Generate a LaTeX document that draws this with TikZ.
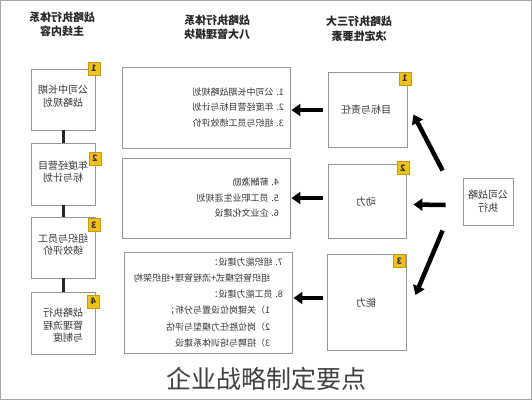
\documentclass[tikz,border=0pt]{standalone}
\usepackage{fontspec}
\usepackage{graphicx}
\usetikzlibrary{arrows.meta,calc}
\setmainfont{Noto Sans CJK SC}
\newcommand\mir[1]{\reflectbox{#1}}
\definecolor{badgey}{RGB}{240,192,30}
\definecolor{boxgray}{RGB}{150,150,150}
\begin{document}
\begin{tikzpicture}[x=1pt,y=-1pt,
 box/.style={draw=boxgray, line width=0.8pt, inner sep=0pt, fill=white},
 badge/.style={fill=badgey, draw=badgey!80!black, line width=0.3pt, minimum width=12pt, minimum height=13pt, inner sep=0pt, font=\fontsize{9}{9}\selectfont\bfseries, text=black!80},
 hdr/.style={font=\fontsize{11}{14.5}\selectfont\bfseries, text=black!85, inner sep=0pt},
 ltxt/.style={font=\fontsize{10}{12.5}\selectfont, text=black!80, inner sep=0pt},
 mtxt/.style={font=\fontsize{9}{15.5}\selectfont, text=black!80, inner sep=0pt},
 link/.style={line width=3pt, draw=black!85},
 bigarrow/.style={line width=4.5pt, draw=black, -{Triangle[length=9pt,width=12pt]}},
]
\useasboundingbox (0,0) rectangle (532,400);
\draw[gray!70, line width=1pt] (0.5,0.5) rectangle (531.5,399.5);

% headers
\node[hdr] (h1) at (62,25.5) {\mir{\begin{tabular}{@{}c@{}}战略执行体系\\主线内容\end{tabular}}};
\node[hdr] (h2) at (217,28.5) {\mir{\begin{tabular}{@{}c@{}}战略执行体系\\八大管理模块\end{tabular}}};
\node[hdr] (h3) at (359,30) {\mir{\begin{tabular}{@{}c@{}}战略执行三大\\决定性要素\end{tabular}}};

% left column
\node[box, minimum width=64pt, minimum height=61pt] (L1) at (63,99.5) {};
\node[box, minimum width=64pt, minimum height=62pt] (L2) at (63,174) {};
\node[box, minimum width=64pt, minimum height=61pt] (L3) at (63,247.5) {};
\node[box, minimum width=64pt, minimum height=62pt] (L4) at (63,323) {};
\draw[link] (L1.south) -- (L2.north);
\draw[link] (L2.south) -- (L3.north);
\draw[link] (L3.south) -- (L4.north);
\node[ltxt] (t1) at (63,97.5) {\mir{\begin{tabular}{@{}c@{}}公司中长期\\战略规划\end{tabular}}};
\node[ltxt] (t2) at (63,173) {\mir{\begin{tabular}{@{}c@{}}年度经营目\\标与计划\end{tabular}}};
\node[ltxt] (t3) at (63,246) {\mir{\begin{tabular}{@{}c@{}}组织与员工\\绩效评价\end{tabular}}};
\node[ltxt] (t4) at (63,326.5) {\mir{\begin{tabular}{@{}l@{}}战略执行\\管理流程\\与制度\end{tabular}}};
\node[badge] (b1) at (94,68.5) {\mir{1}};
\node[badge] (b2) at (95,158.5) {\mir{2}};
\node[badge] (b3) at (94,225) {\mir{3}};
\node[badge] (b4) at (93.5,301.5) {\mir{4}};

% middle column
\node[box, minimum width=168pt, minimum height=81pt] (M1) at (206,107.5) {};
\node[box, minimum width=168pt, minimum height=80pt] (M2) at (206,198) {};
\node[box, minimum width=168pt, minimum height=101pt] (M3) at (208,302.5) {};
\node[mtxt, anchor=east] (m1) at (284,107.5) {\mir{\begin{tabular}{@{}l@{}}1. 公司中长期战略规划\\2. 年度经营目标与计划\\3. 组织与员工绩效评价\end{tabular}}};
\node[mtxt, anchor=east] (m2) at (279,198) {\mir{\begin{tabular}{@{}l@{}}4. 薪酬激励\\5. 员工职业生涯规划\\6. 企业文化建设\end{tabular}}};
\node[mtxt, font=\fontsize{9}{16.2}\selectfont, anchor=east] (m3) at (283,302.5) {\mir{\begin{tabular}{@{}l@{}}7. 组织能力建设：\\\hspace{1.4em}组织管控模式+流程管理+组织架构\\8. 员工能力建设：\\\hspace{1.4em}1）关键岗位设置与分析；\\\hspace{1.4em}2）岗位胜任力模型与评估\\\hspace{1.4em}3）招聘与培训体系建设\end{tabular}}};

% right column
\node[box, minimum width=79pt, minimum height=75pt] (R1) at (367.5,109.5) {};
\node[box, minimum width=78pt, minimum height=74pt] (R2) at (367,201) {};
\node[box, minimum width=79pt, minimum height=96pt] (R3) at (366.5,302) {};
\node[ltxt] (r1) at (366,110) {\mir{目标与责任}};
\node[ltxt] (r2) at (366,202) {\mir{动力}};
\node[ltxt] (r3) at (366,303) {\mir{能力}};
\node[badge] (rb1) at (405,78.5) {\mir{1}};
\node[badge] (rb2) at (403,168) {\mir{2}};
\node[badge] (rb3) at (399.5,261) {\mir{3}};

\node[box, minimum width=50pt, minimum height=47pt] (F) at (488,201.5) {};
\node[ltxt] (f) at (488,202.5) {\mir{\begin{tabular}{@{}c@{}}公司战略\\执行\end{tabular}}};

% arrows
\draw[bigarrow, shorten >=1pt] ($(R1.west)+(-5,0.5)$) -- (M1.east |- {$(R1.west)+(0,0.5)$});
\draw[bigarrow, shorten >=1pt] ($(R2.west)+(-5,-3)$) -- (M2.east |- {$(R2.west)+(0,-3)$});
\draw[bigarrow, shorten >=1pt] ($(R3.west)+(-4,-4)$) -- (M3.east |- {$(R3.west)+(0,-4)$});
\draw[bigarrow] ($(F.west)+(-20,-31)$) -- ($(R1.east)+(6,5)$);
\draw[bigarrow] ($(F.west)+(-17,3.5)$) -- ($(R2.east)+(7,3.5)$);
\draw[bigarrow] ($(F.west)+(-20,29)$) -- ($(R3.east)+(9,-7)$);

% caption
\node[font=\fontsize{25}{25}\selectfont, text=black!75] (cap) at (266,379) {企业战略制定要点};
\end{tikzpicture}
\end{document}
